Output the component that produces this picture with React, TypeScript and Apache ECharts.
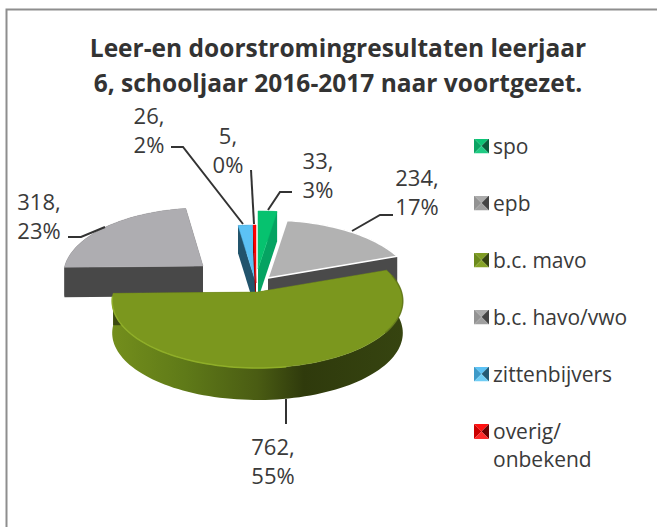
import React, { useEffect, useRef } from "react";
import * as echarts from "echarts";

const categories = ["spo", "epb", "b.c. mavo", "b.c. havo/vwo", "zittenbijvers", "overig/ onbekend"];
const counts = [33, 234, 762, 318, 26, 5];
const percents = [3, 17, 55, 23, 2, 0];
const titleLines = ["Leer-en doorstromingresultaten leerjaar", "6, schooljaar 2016-2017 naar voortgezet."];

const FONT = '"Open Sans", sans-serif';
const INK = "#3a3a3a";

// per-slice drawing style and layout, in the order of categories
const looks = [
  { top: "#06c26f", cut: "#05a362", wallL: "#05a362", wallR: "#05a362", apex: [258, 269], sx: 1, depth: 30, z: 3,
    label: [318, 174], lead: [[268, 210], [280, 192], [292, 192]], sw: ["#0cc476", "#0ba463", "#0a5c3c", "#1fcb83"] },
  { top: "#b2b2b2", cut: "#4a4a4a", wallL: "#4a4a4a", wallR: "#4a4a4a", apex: [268, 278], sx: 1, depth: 31, z: 5,
    label: [417, 191], lead: [[352, 231], [380, 215], [393, 215]], sw: ["#ababab", "#939393", "#454545", "#a0a0a0"] },
  { top: "#7b971e", cut: "#3c4a10", wallL: "#738e1c", wallR: "#33400f", apex: [257.5, 292], sx: 1, depth: 32, z: 6,
    label: [273, 460], lead: [[286, 399], [286, 424]], sw: ["#7f9c22", "#6b8a1b", "#34420e", "#86a326"] },
  { top: "#aeadb1", cut: "#484848", wallL: "#484848", wallR: "#484848", apex: [203, 266], sx: 0.96, depth: 30, z: 4,
    label: [39, 215], lead: [[105, 227], [81, 237], [68, 237]], sw: ["#ababab", "#939393", "#454545", "#a0a0a0"] },
  { top: "#5cc2f5", cut: "#22546c", wallL: "#22546c", wallR: "#22546c", apex: [256, 283], sx: 1, depth: 28, z: 2,
    label: [149, 129], lead: [[243, 224], [183, 147], [171, 147]], sw: ["#5cc2f5", "#3d9ac8", "#245a75", "#6fcdf5"] },
  { top: "#ff0000", cut: "#a00000", wallL: "#a00000", wallR: "#a00000", apex: [256, 283], sx: 1, depth: 28, z: 2,
    label: [228, 149], lead: [[254, 224], [251, 170]], sw: ["#ff1010", "#cc0000", "#6a0000", "#ff2a2a"] },
];

const total = counts.reduce((a, b) => a + b, 0);
const starts = counts.map((_, i) => (counts.slice(0, i).reduce((a, b) => a + b, 0) / total) * 360);
const ends = starts.map((s, i) => s + (counts[i] / total) * 360);

const R = 144;
const RY = 65.8;
const K = 0.134;

function rim(i: number, deg: number, dy = 0): number[] {
  const a = (deg * Math.PI) / 180;
  const u = Math.sin(a);
  const v = -Math.cos(a);
  const s = 1 / (1 - K * v);
  const L = looks[i];
  return [L.apex[0] + R * L.sx * u * s, L.apex[1] + RY * v * s + dy];
}

function arc(i: number, a0: number, a1: number, dy = 0): number[][] {
  const n = Math.max(2, Math.ceil((a1 - a0) / 2));
  const out: number[][] = [];
  for (let k = 0; k <= n; k++) out.push(rim(i, a0 + ((a1 - a0) * k) / n, dy));
  return out;
}

function swatch(c: string[], h: number): string {
  const svg =
    `<svg xmlns="http://www.w3.org/2000/svg" width="15" height="${h}" viewBox="0 0 15 ${h}">` +
    `<polygon points="0,0 15,0 7.5,7.5" fill="${c[0]}"/>` +
    `<polygon points="0,0 7.5,7.5 0,15" fill="${c[1]}"/>` +
    `<polygon points="15,0 7.5,7.5 15,15" fill="${c[2]}"/>` +
    `<polygon points="0,15 15,15 7.5,7.5" fill="${c[3]}"/>` +
    `</svg>`;
  return "image://data:image/svg+xml;utf8," + encodeURIComponent(svg);
}

function renderSlice(i: number) {
  return () => {
    const L = looks[i];
    const a0 = starts[i];
    const a1 = ends[i];
    const apex = L.apex;
    const d = L.depth;
    const topArc = arc(i, a0, a1);
    const lowArc = arc(i, a0, a1, d).reverse();
    const cutFace = (deg: number) => {
      const p = rim(i, deg);
      return [apex, p, [p[0], p[1] + d], [apex[0], apex[1] + d]];
    };
    const cuts = [a0, a1].sort((x, y) => rim(i, x)[1] - rim(i, y)[1]);
    const poly = (points: number[][], style: any) => ({ type: "polygon", silent: true, shape: { points }, style });
    const line = (points: number[][], stroke: string, lineWidth: number, opacity = 1) => ({
      type: "polyline",
      silent: true,
      shape: { points },
      style: { stroke, lineWidth, fill: null, opacity },
    });
    const wallFill =
      i === 2
        ? new echarts.graphic.LinearGradient(0, 0, 1, 0, [
            { offset: 0, color: "#738e1c" },
            { offset: 0.25, color: "#5f7a18" },
            { offset: 0.5, color: "#4a5c13" },
            { offset: 0.66, color: "#2f3a0c" },
            { offset: 1, color: "#364410" },
          ])
        : L.wallL;
    const children: any[] = [
      poly(topArc.concat(lowArc), { fill: wallFill }),
      ...cuts.map((c) => poly(cutFace(c), { fill: L.cut })),
      poly([apex, ...topArc], {
        fill: L.top,
        stroke: i === 1 ? "#ffffff" : L.top,
        lineWidth: i === 1 ? 1.5 : 0.5,
      }),
    ];
    if (i === 2) {
      children.push(line(arc(i, 170, 266), "#8fae28", 1.5));
      children.push(line(arc(i, 75, 125), "#5b7016", 1.5, 0.7));
    }
    children.push(line(L.lead, "#333333", 2));
    children.push({
      type: "text",
      silent: true,
      style: {
        text: `${counts[i]},\n${percents[i]}%`,
        x: L.label[0],
        y: L.label[1],
        align: "center",
        verticalAlign: "middle",
        fontSize: 22,
        fontFamily: FONT,
        lineHeight: 29,
        fill: INK,
      },
    });
    return { type: "group", children };
  };
}

export default function App() {
  const ref = useRef<HTMLDivElement>(null);
  useEffect(() => {
    const chart = echarts.init(ref.current!, null, { renderer: "svg" });
    const legendBase = {
      orient: "vertical" as const,
      left: 474,
      padding: 0,
      itemWidth: 15,
      itemGap: 31,
      selectedMode: false,
      textStyle: { fontSize: 21, fontFamily: FONT, color: INK, lineHeight: 26, padding: [0, 0, 0, -1] },
    };
    chart.setOption({
      animation: false,
      backgroundColor: "#ffffff",
      title: {
        text: titleLines.join("\n"),
        left: 338,
        top: 30,
        padding: 0,
        textAlign: "center",
        textStyle: { fontSize: 24.5, fontWeight: "bold", fontFamily: FONT, color: "#333333", lineHeight: 35 },
      },
      legend: [
        {
          ...legendBase,
          top: 133,
          itemHeight: 15,
          data: categories.slice(0, 5).map((name, i) => ({ name, icon: swatch(looks[i].sw, 15) })),
        },
        {
          ...legendBase,
          top: 417,
          itemHeight: 42,
          formatter: (n: string) => n.replace(" ", "\n"),
          textStyle: { ...legendBase.textStyle, lineHeight: 28 },
          data: [{ name: categories[5], icon: swatch(looks[5].sw, 42) }],
        },
      ],
      graphic: [
        {
          type: "polyline",
          silent: true,
          shape: { points: [[6.5, 527], [6.5, 9.5], [657, 9.5]] },
          style: { stroke: "#8e8e8e", lineWidth: 2, fill: null },
        },
      ],
      series: categories.map((name, i) => ({
        type: "custom",
        name,
        coordinateSystem: "none",
        z: looks[i].z,
        silent: true,
        itemStyle: { color: looks[i].top },
        data: [{ name, value: counts[i] }],
        renderItem: renderSlice(i),
      })),
    });
    return () => chart.dispose();
  }, []);
  return <div ref={ref} style={{ position: "fixed", left: 0, top: 0, width: 657, height: 527 }} />;
}
